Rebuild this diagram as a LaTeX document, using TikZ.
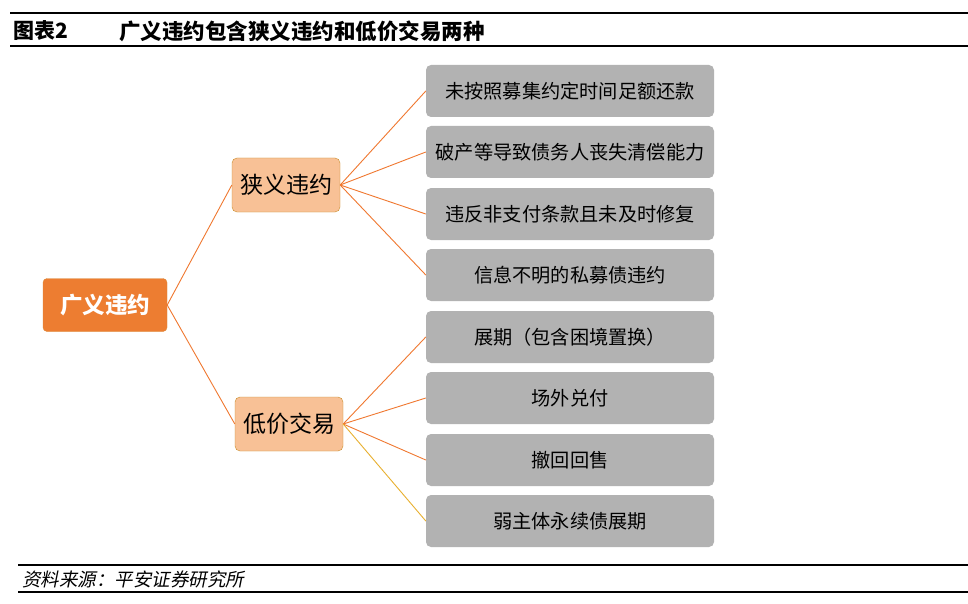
\documentclass[tikz,border=0pt]{standalone}
\usepackage{fontspec}
\setmainfont{Noto Sans CJK SC}
\newfontfamily\cjk{Noto Sans CJK SC}
\newfontfamily\cjkit[FakeSlant=0.2]{Noto Sans CJK SC}
\definecolor{rootfill}{RGB}{237,125,49}
\definecolor{rootdraw}{RGB}{220,140,60}
\definecolor{midfill}{RGB}{248,193,150}
\definecolor{middraw}{RGB}{200,140,40}
\definecolor{leaffill}{RGB}{178,178,178}
\definecolor{linkc}{RGB}{240,120,48}
\definecolor{linky}{RGB}{232,176,48}
\tikzset{
  rootbox/.style={draw=rootdraw, fill=rootfill, rounded corners=4pt, minimum width=124pt, minimum height=53pt, text=white, font=\cjk\fontsize{22.5}{26}\selectfont\bfseries, inner sep=0pt},
  midbox/.style={draw=middraw, fill=midfill, rounded corners=5pt, minimum width=108pt, minimum height=54pt, font=\cjk\fontsize{23}{26}\selectfont, inner sep=0pt},
  leafbox/.style={fill=leaffill, rounded corners=5pt, minimum width=288pt, minimum height=52pt, font=\cjk\fontsize{19.2}{22}\selectfont, inner sep=0pt},
  link/.style={draw=linkc, line width=0.9pt},
  rule/.style={line width=1.3pt, black}
}
\begin{document}
\begin{tikzpicture}[x=1pt,y=-1pt]
\useasboundingbox (0,0) rectangle (968,604);
\fill[white] (0,0) rectangle (968,604);
% title rules
\coordinate (t1l) at (10,13); \coordinate (t1r) at (968,13);
\coordinate (t2l) at (10,46); \coordinate (t2r) at (968,46);
\draw[rule] (t1l) -- (t1r);
\draw[rule] (t2l) -- (t2r);
\node[anchor=west, inner sep=0pt, font=\cjk\fontsize{21}{24}\selectfont\bfseries] (tnum) at (13,31) {图表2};
\node[anchor=west, inner sep=0pt, font=\cjk\fontsize{21.5}{24}\selectfont\bfseries] (ttl) at (119,31) {广义违约包含狭义违约和低价交易两种};
% footer
\coordinate (f1l) at (18,565); \coordinate (f1r) at (968,565);
\coordinate (f2l) at (18,592); \coordinate (f2r) at (968,592);
\draw[rule] (f1l) -- (f1r);
\draw[rule] (f2l) -- (f2r);
\node[anchor=west, inner sep=0pt, font=\cjkit\fontsize{18.5}{20}\selectfont] (src) at (22,579) {资料来源：平安证券研究所};
% nodes
\node[rootbox] (root) at (105,305) {广义违约};
\node[midbox] (n1) at (286,185) {狭义违约};
\node[midbox] (n2) at (289,424) {低价交易};
\node[leafbox] (a1) at (570,91) {未按照募集约定时间足额还款};
\node[leafbox] (a2) at (570,152) {破产等导致债务人丧失清偿能力};
\node[leafbox] (a3) at (570,214) {违反非支付条款且未及时修复};
\node[leafbox] (a4) at (570,275) {信息不明的私募债违约};
\node[leafbox] (b1) at (570,337) {展期（包含困境置换）};
\node[leafbox] (b2) at (570,398) {场外兑付};
\node[leafbox] (b3) at (570,460) {撤回回售};
\node[leafbox] (b4) at (570,521) {弱主体永续债展期};
% links
\draw[link] (root.east) -- (n1.west);
\draw[link] (root.east) -- (n2.west);
\foreach \t in {a1,a2,a3,a4} \draw[link] (n1.east) -- (\t.west);
\foreach \t in {b1,b2,b3} \draw[link] (n2.east) -- (\t.west);
\draw[link, draw=linky] (n2.east) -- (b4.west);
\end{tikzpicture}
\end{document}
